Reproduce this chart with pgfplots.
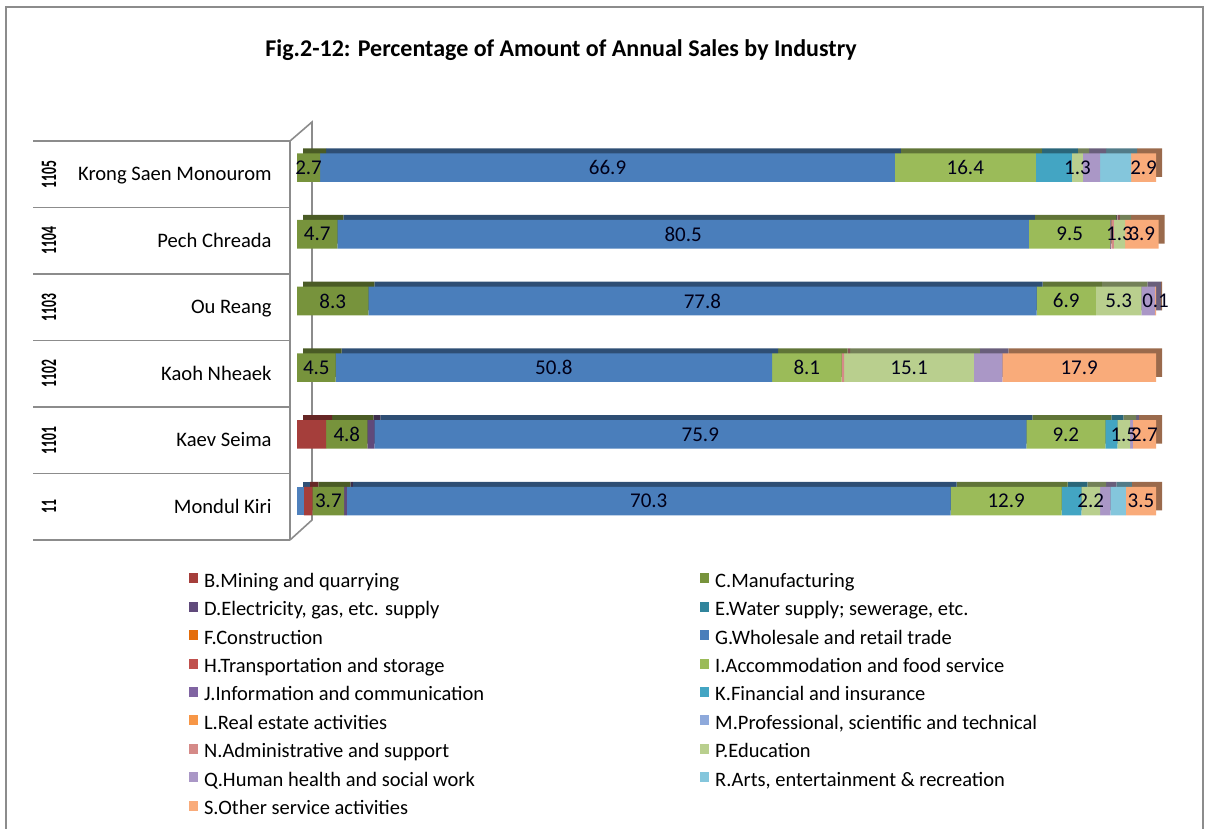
\documentclass[border=0pt]{standalone}
\usepackage{pgfplots}
\pgfplotsset{compat=1.18}
\usepackage{pgfplotstable}
\usepackage{graphicx}
\usepackage{fontspec}
\setmainfont{Carlito}

\definecolor{cA}{HTML}{4F81BD}
\definecolor{cB}{HTML}{A53E3B}
\definecolor{cC}{HTML}{77933C}
\definecolor{cD}{HTML}{604A7B}
\definecolor{cE}{HTML}{31859C}
\definecolor{cF}{HTML}{E46C0A}
\definecolor{cG}{HTML}{4A7EBB}
\definecolor{cH}{HTML}{C0504D}
\definecolor{cI}{HTML}{9BBB59}
\definecolor{cJ}{HTML}{8064A2}
\definecolor{cK}{HTML}{43A5C3}
\definecolor{cL}{HTML}{F79646}
\definecolor{cM}{HTML}{8EA9DB}
\definecolor{cN}{HTML}{D58A88}
\definecolor{cP}{HTML}{B9CF8E}
\definecolor{cQ}{HTML}{AA97C6}
\definecolor{cR}{HTML}{84C6DC}
\definecolor{cS}{HTML}{F9AB7A}
\definecolor{frame}{HTML}{8C8C8C}

% y: 0 Mondul Kiri, 1 Kaev Seima, 2 Kaoh Nheaek, 3 Ou Reang, 4 Pech Chreada, 5 Krong Saen Monourom
\pgfplotstableread{
y A   B   C   D   E F G    H I    J   K   L M N   P    Q   R   S
0 0.8 1.0 3.7 0.3 0 0 70.3 0 12.9 0   2.3 0 0 0   2.2  1.2 1.8 3.5
1 0   3.4 4.8 0.8 0 0 75.9 0 9.2  0   1.4 0 0 0   1.5  0.3 0   2.7
2 0   0   4.5 0   0 0 50.8 0 8.1  0   0   0 0 0.3 15.1 3.3 0   17.9
3 0   0   8.3 0   0 0 77.8 0 6.9  0   0   0 0 0   5.3  1.6 0   0.1
4 0   0   4.7 0   0 0 80.5 0 9.5  0.1 0   0 0 0.3 1.3  0   0   3.9
5 0   0   2.7 0   0 0 66.9 0 16.4 0   4.2 0 0 0   1.3  2.0 3.6 2.9
}\sales

\pgfplotsset{
  base/.style={
    xbar stacked, bar width=14.3pt,
    xmin=0, xmax=100, ymin=-0.5, ymax=5.5,
    width=429.5pt, height=200.1pt, scale only axis,
    axis lines=none, xtick=\empty, ytick=\empty,
    clip=false, anchor=south west,
  },
  lbl/.style={
    visualization depends on={\thisrow{#1} \as \rawx},
    nodes near coords={\pgfmathprintnumber[fixed,fixed zerofill,precision=1,assume math mode=true]{\rawx}},
    every node near coord/.style={anchor=center,
      font=\fontsize{10.5}{12}\selectfont, text=black!90!blue, inner sep=0pt},
  },
}
\newcommand\bk[2]{\addplot[fill=#2!62!black, draw=none] table[x=#1,y=y]{\sales};}
\newcommand\fr[3]{\addplot[fill=#2, draw=none] table[x=#1,y=y]{\sales};\addlegendentry{#3}}
\newcommand\frl[3]{\addplot[fill=#2, draw=none, lbl=#1] table[x=#1,y=y]{\sales};\addlegendentry{#3}}

\begin{document}
\begin{tikzpicture}
\path[use as bounding box] (0,0) rectangle (604.5pt,-414.5pt);
\begin{scope}[x=0.5pt,y=-0.5pt]
  \draw[frame, line width=0.8pt] (6,840) -- (6,7) -- (1203,7) -- (1203,840);
  \node[font=\bfseries\fontsize{12}{14}\selectfont, anchor=base] at (561,57)
    {Fig.2-12: Percentage of Amount of Annual Sales by Industry};
  % category table
  \foreach \yy in {141,207.5,274,340.5,407,473.5,540}
    \draw[frame, line width=0.8pt] (33,\yy) -- (290,\yy);
  \draw[frame, line width=0.8pt] (290,141) -- (290,540);
  % 3D wall
  \draw[frame, line width=0.8pt] (290,141) -- (312,122) -- (312,520) -- (290,540);
  \foreach \yy/\nm/\cd in {506.8/Mondul Kiri/11, 440.3/Kaev Seima/1101,
      373.8/Kaoh Nheaek/1102, 307.3/Ou Reang/1103, 240.8/Pech Chreada/1104,
      174.3/Krong Saen Monourom/1105}{
    \node[anchor=base east, font=\fontsize{10.3}{12}\selectfont, inner sep=0pt]
      at (272,\yy+6.5) {\nm};
    \node[rotate=90, font=\bfseries\fontsize{11}{12}\selectfont, inner sep=0pt]
      at (49,\yy) {\scalebox{0.62}[1]{\cd}};
  }
\end{scope}

% back (3D depth) layer
\begin{axis}[base, at={(151.5pt,-264.7pt)}]
  \bk{A}{cA}\bk{B}{cB}\bk{C}{cC}\bk{D}{cD}\bk{E}{cE}\bk{F}{cF}
  \bk{G}{cG}\bk{H}{cH}\bk{I}{cI}\bk{J}{cJ}\bk{K}{cK}\bk{L}{cL}
  \bk{M}{cM}\bk{N}{cN}\bk{P}{cP}\bk{Q}{cQ}\bk{R}{cR}\bk{S}{cS}
\end{axis}

% front layer
\begin{axis}[base, at={(148.5pt,-267.2pt)},
  legend columns=2,
  legend cell align=left,
  legend image code/.code={\fill[#1] (0pt,-0.6pt) rectangle (4.5pt,4.4pt);},
  legend style={at={(-0.1257,-0.0964)}, anchor=north west, draw=none, fill=none,
    inner sep=0pt, outer sep=0pt,
    font=\fontsize{10.25}{12}\selectfont,
    nodes={inner sep=0pt, text height=7.2pt, text depth=2pt},
    column sep=3pt, row sep=5pt,
    /tikz/every even column/.append style={column sep=108pt}},
]
  \addplot[fill=cA, draw=none, forget plot] table[x=A,y=y]{\sales};
  \fr{B}{cB}{B.Mining and quarrying}
  \frl{C}{cC}{C.Manufacturing}
  \fr{D}{cD}{D.Electricity, gas, etc. supply}
  \fr{E}{cE}{E.Water supply; sewerage, etc.}
  \fr{F}{cF}{F.Construction}
  \frl{G}{cG}{G.Wholesale and retail trade}
  \fr{H}{cH}{H.Transportation and storage}
  \frl{I}{cI}{I.Accommodation and food service}
  \fr{J}{cJ}{J.Information and communication}
  \fr{K}{cK}{K.Financial and insurance}
  \fr{L}{cL}{L.Real estate activities}
  \fr{M}{cM}{M.Professional, scientific and technical}
  \fr{N}{cN}{N.Administrative and support}
  \frl{P}{cP}{P.Education}
  \fr{Q}{cQ}{Q.Human health and social work}
  \fr{R}{cR}{R.Arts, entertainment \& recreation}
  \frl{S}{cS}{S.Other service activities}
\end{axis}
\end{tikzpicture}
\end{document}
